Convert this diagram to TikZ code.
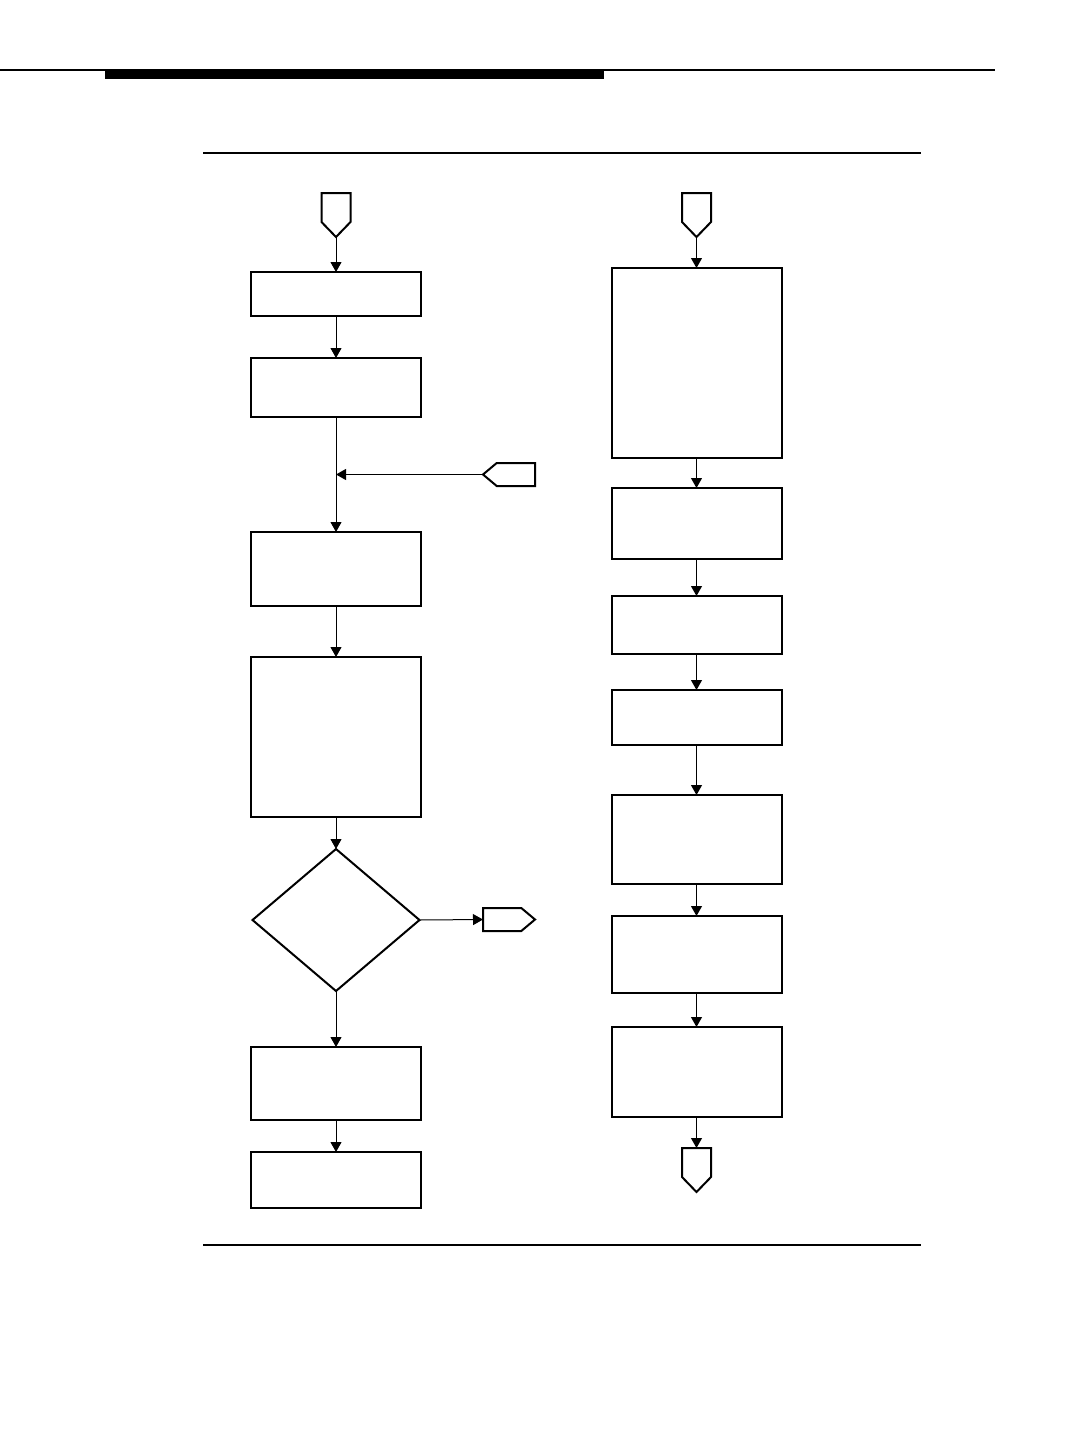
\documentclass[tikz,border=0pt]{standalone}
\usetikzlibrary{arrows.meta,shapes.symbols,shapes.geometric}
\begin{document}
\begin{tikzpicture}[x=0.5pt,y=-0.5pt,
    every node/.style={draw, line width=1pt, fill=white, inner sep=0pt, outer sep=0pt},
    proc/.style={rectangle, minimum width=85pt},
    decision/.style={diamond, minimum width=83.5pt, minimum height=71pt},
    flecha/.style={-{Triangle[length=5pt,width=5.5pt]}, line width=0.5pt},
    offpage/.style={signal, signal to=south, signal pointer angle=88, minimum width=14.5pt, minimum height=14.5pt, anchor=north},
    lado/.style={signal, signal pointer angle=80, minimum width=26pt, minimum height=11.5pt, anchor=west}
]
\useasboundingbox (0,0) rectangle (1066,1440);

% Lineas de cabecera y pie
\draw[line width=0.75pt] (0,70) -- (995,70);
\fill (105,70) rectangle (604,79);
\draw[line width=1pt] (203,153) -- (921,153);
\draw[line width=0.75pt] (203,1245) -- (921,1245);

% Columna izquierda
\node[offpage] (inA) at (336,193) {};
\node[proc, minimum height=22pt] (p1) at (336,294) {};
\node[proc, minimum height=29.5pt] (p2) at (336,387.5) {};
\node[proc, minimum height=37pt] (p3) at (336,569) {};
\node[proc, minimum height=80pt] (p4) at (336,737) {};
\node[decision] (d1) at (336,920) {};
\node[proc, minimum height=36.5pt] (p5) at (336,1083.5) {};
\node[proc, minimum height=28pt] (p6) at (336,1180) {};
\node[lado, signal to=west] (inB) at (483,474.5) {};
\node[lado, signal to=east] (outA) at (483,919.5) {};
\coordinate (junta) at (p2.south |- inB.west);

% Columna derecha
\node[offpage] (inC) at (696.5,193) {};
\node[proc, minimum height=95pt] (r1) at (696.5,363) {};
\node[proc, minimum height=35.5pt] (r2) at (696.5,523.5) {};
\node[proc, minimum height=29pt] (r3) at (696.5,625) {};
\node[proc, minimum height=27.5pt] (r4) at (696.5,717.5) {};
\node[proc, minimum height=44.5pt] (r5) at (696.5,839.5) {};
\node[proc, minimum height=38.5pt] (r6) at (696.5,954.5) {};
\node[proc, minimum height=45pt] (r7) at (696.5,1072) {};
\node[offpage] (outB) at (696.5,1148) {};

% Flechas
\draw[flecha] (inA.south) -- (p1.north);
\draw[flecha] (p1) -- (p2);
\draw[flecha] (p2) -- (p3);
\draw[flecha] (inB.west) -- (junta);
\draw[flecha] (p3) -- (p4);
\draw[flecha] (p4) -- (d1);
\draw[flecha] (d1.east) -- (outA.west);
\draw[flecha] (d1) -- (p5);
\draw[flecha] (p5) -- (p6);
\draw[flecha] (inC.south) -- (r1.north);
\draw[flecha] (r1) -- (r2);
\draw[flecha] (r2) -- (r3);
\draw[flecha] (r3) -- (r4);
\draw[flecha] (r4) -- (r5);
\draw[flecha] (r5) -- (r6);
\draw[flecha] (r6) -- (r7);
\draw[flecha] (r7.south) -- (outB.north);

\end{tikzpicture}
\end{document}
